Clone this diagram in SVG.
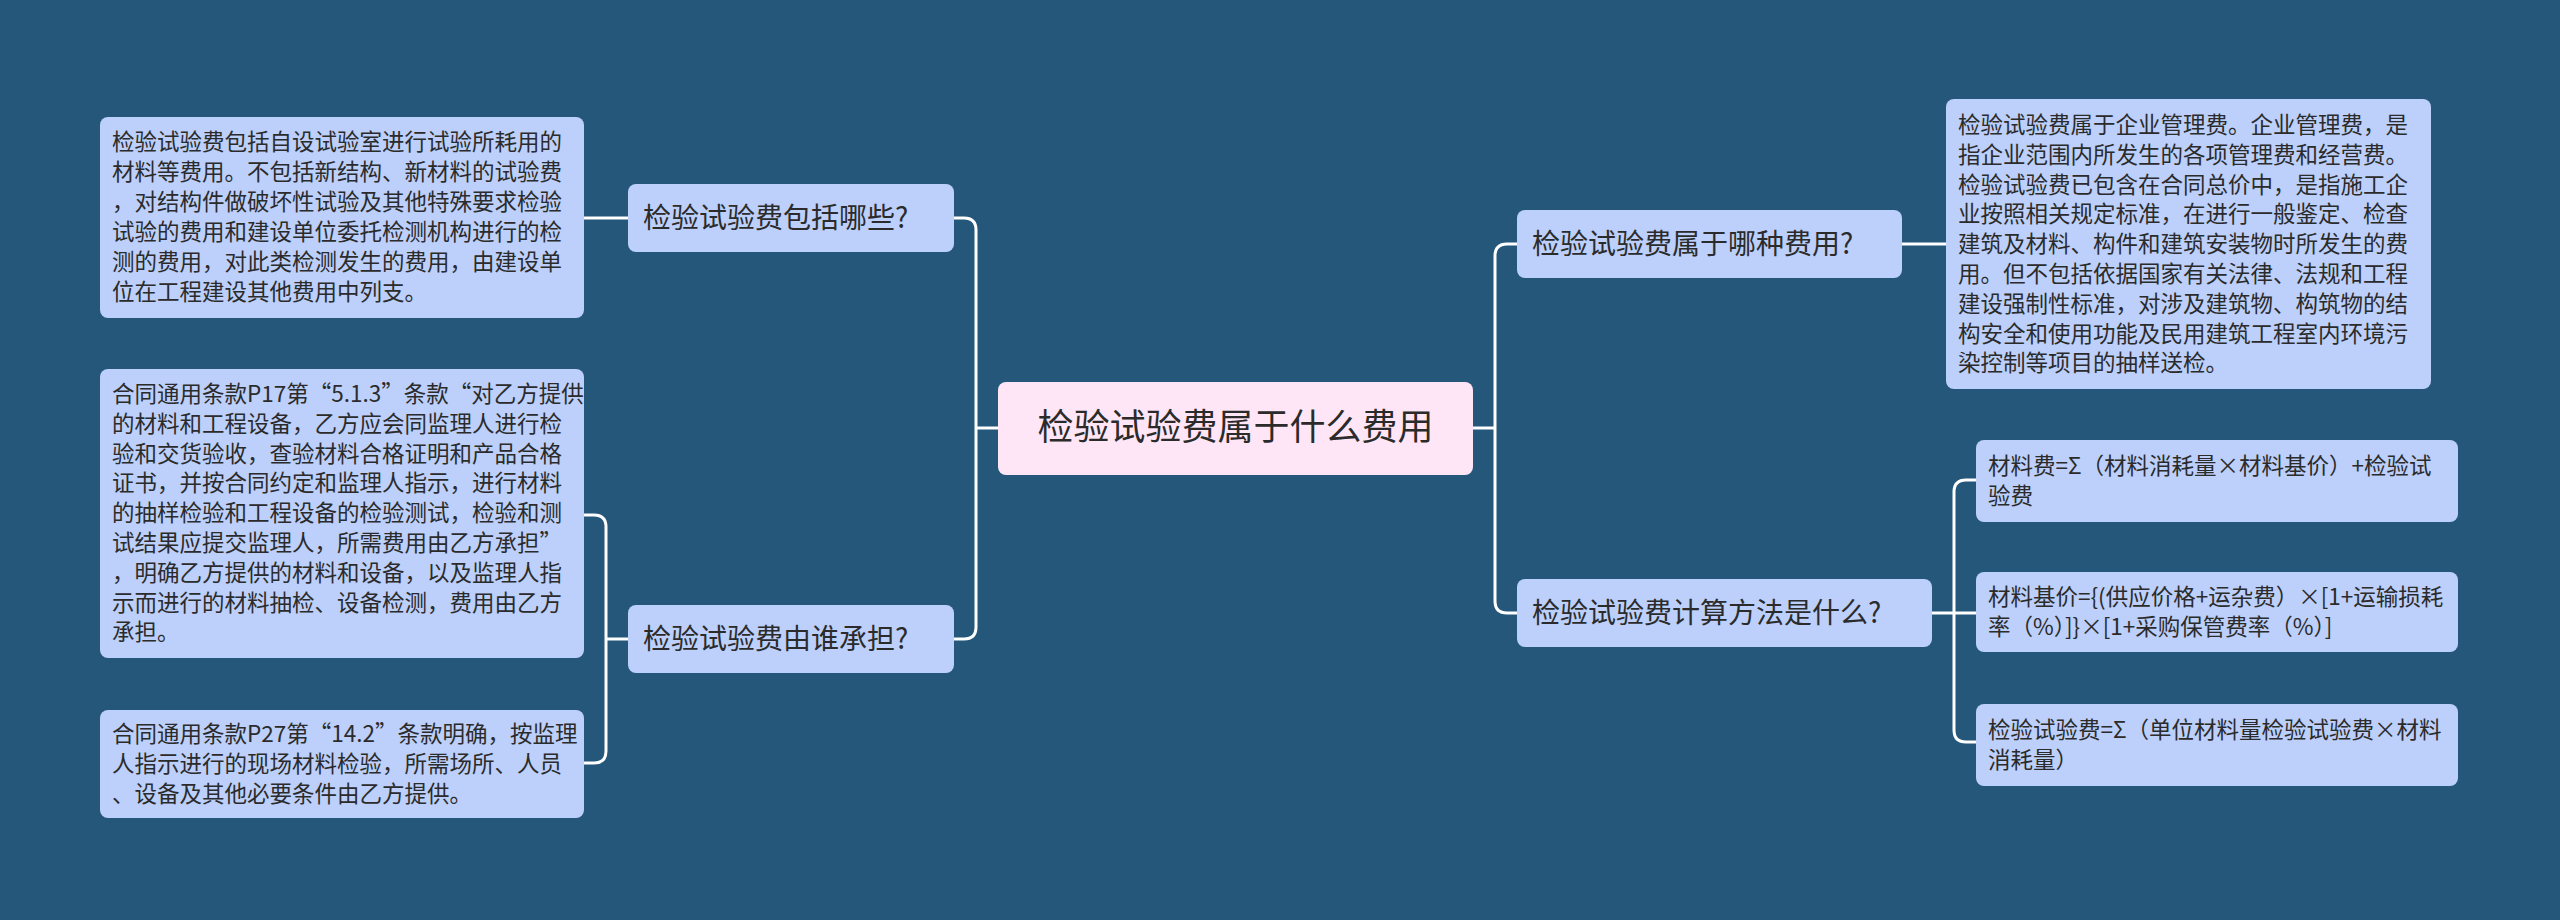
<svg xmlns="http://www.w3.org/2000/svg" width="2560" height="920" viewBox="0 0 2560 920">
<style>
.bg{fill:#245779}
.n{fill:#bcd0fb}
.c{fill:#ffe6f6}
text{font-family:"Noto Sans CJK SC","Liberation Sans",sans-serif;fill:#2b2b2b}
.d{font-size:22.5px}
.t{font-size:28px}
.ln{fill:none;stroke:#ffffff;stroke-width:3}
</style>
<rect class="bg" width="2560" height="920"/>
<g id="connectors">
<path class="ln" d="M998 428 H976 M976 428 V230 Q976 218 964 218 H954 M976 428 V627 Q976 639 964 639 H954"/>
<path class="ln" d="M628 218 H584"/>
<path class="ln" d="M628 639 H606 M606 639 V527 Q606 515 594 515 H584 M606 639 V751 Q606 763 594 763 H584"/>
<path class="ln" d="M1473 428 H1495 M1495 428 V256 Q1495 244 1507 244 H1517 M1495 428 V601 Q1495 613 1507 613 H1517"/>
<path class="ln" d="M1902 244 H1946"/>
<path class="ln" d="M1932 613 H1976 M1954 613 V492 Q1954 480 1966 480 H1976 M1954 613 V730 Q1954 742 1966 742 H1976"/>
</g>
<g id="center"><rect class="c" x="998" y="382" width="475" height="93" rx="8"/><text x="1235.5" y="440" font-size="36" text-anchor="middle">检验试验费属于什么费用</text></g>
<g id="l1"><rect class="n" x="628" y="184" width="326" height="68" rx="8"/><text class="t" x="643" y="228">检验试验费包括哪些?</text></g>
<g id="l2"><rect class="n" x="628" y="605" width="326" height="68" rx="8"/><text class="t" x="643" y="649">检验试验费由谁承担?</text></g>
<g id="r1"><rect class="n" x="1517" y="210" width="385" height="68" rx="8"/><text class="t" x="1532" y="254">检验试验费属于哪种费用?</text></g>
<g id="r2"><rect class="n" x="1517" y="579" width="415" height="68" rx="8"/><text class="t" x="1532" y="623">检验试验费计算方法是什么?</text></g>
<g id="l1d"><rect class="n" x="100" y="117" width="484" height="201" rx="8"/>
<text class="d" x="112" y="150"><tspan x="112" dy="0">检验试验费包括自设试验室进行试验所耗用的</tspan><tspan x="112" dy="30">材料等费用。不包括新结构、新材料的试验费</tspan><tspan x="112" dy="30">，对结构件做破坏性试验及其他特殊要求检验</tspan><tspan x="112" dy="30">试验的费用和建设单位委托检测机构进行的检</tspan><tspan x="112" dy="30">测的费用，对此类检测发生的费用，由建设单</tspan><tspan x="112" dy="30">位在工程建设其他费用中列支。</tspan></text></g>
<g id="l2d1"><rect class="n" x="100" y="369" width="484" height="289" rx="8"/>
<text class="d" x="112" y="402"><tspan x="112" dy="0">合同通用条款P17第“5.1.3”条款“对乙方提供</tspan><tspan x="112" dy="29.8">的材料和工程设备，乙方应会同监理人进行检</tspan><tspan x="112" dy="29.8">验和交货验收，查验材料合格证明和产品合格</tspan><tspan x="112" dy="29.8">证书，并按合同约定和监理人指示，进行材料</tspan><tspan x="112" dy="29.8">的抽样检验和工程设备的检验测试，检验和测</tspan><tspan x="112" dy="29.8">试结果应提交监理人，所需费用由乙方承担”</tspan><tspan x="112" dy="29.8">，明确乙方提供的材料和设备，以及监理人指</tspan><tspan x="112" dy="29.8">示而进行的材料抽检、设备检测，费用由乙方</tspan><tspan x="112" dy="29.8">承担。</tspan></text></g>
<g id="l2d2"><rect class="n" x="100" y="710" width="484" height="108" rx="8"/>
<text class="d" x="112" y="742"><tspan x="112" dy="0">合同通用条款P27第“14.2”条款明确，按监理</tspan><tspan x="112" dy="30">人指示进行的现场材料检验，所需场所、人员</tspan><tspan x="112" dy="30">、设备及其他必要条件由乙方提供。</tspan></text></g>
<g id="r1d"><rect class="n" x="1946" y="99" width="485" height="290" rx="8"/>
<text class="d" x="1958" y="133"><tspan x="1958" dy="0">检验试验费属于企业管理费。企业管理费，是</tspan><tspan x="1958" dy="29.8">指企业范围内所发生的各项管理费和经营费。</tspan><tspan x="1958" dy="29.8">检验试验费已包含在合同总价中，是指施工企</tspan><tspan x="1958" dy="29.8">业按照相关规定标准，在进行一般鉴定、检查</tspan><tspan x="1958" dy="29.8">建筑及材料、构件和建筑安装物时所发生的费</tspan><tspan x="1958" dy="29.8">用。但不包括依据国家有关法律、法规和工程</tspan><tspan x="1958" dy="29.8">建设强制性标准，对涉及建筑物、构筑物的结</tspan><tspan x="1958" dy="29.8">构安全和使用功能及民用建筑工程室内环境污</tspan><tspan x="1958" dy="29.8">染控制等项目的抽样送检。</tspan></text></g>
<g id="r2c1"><rect class="n" x="1976" y="440" width="482" height="82" rx="8"/>
<text class="d" x="1988" y="474"><tspan x="1988" dy="0">材料费=Σ（材料消耗量×材料基价）+检验试</tspan><tspan x="1988" dy="30">验费</tspan></text></g>
<g id="r2c2"><rect class="n" x="1976" y="572" width="482" height="80" rx="8"/>
<text class="d" x="1988" y="605"><tspan x="1988" dy="0">材料基价={(供应价格+运杂费）×[1+运输损耗</tspan><tspan x="1988" dy="30">率（%）]}×[1+采购保管费率（%）]</tspan></text></g>
<g id="r2c3"><rect class="n" x="1976" y="704" width="482" height="82" rx="8"/>
<text class="d" x="1988" y="738"><tspan x="1988" dy="0">检验试验费=Σ（单位材料量检验试验费×材料</tspan><tspan x="1988" dy="30">消耗量）</tspan></text></g>
</svg>
